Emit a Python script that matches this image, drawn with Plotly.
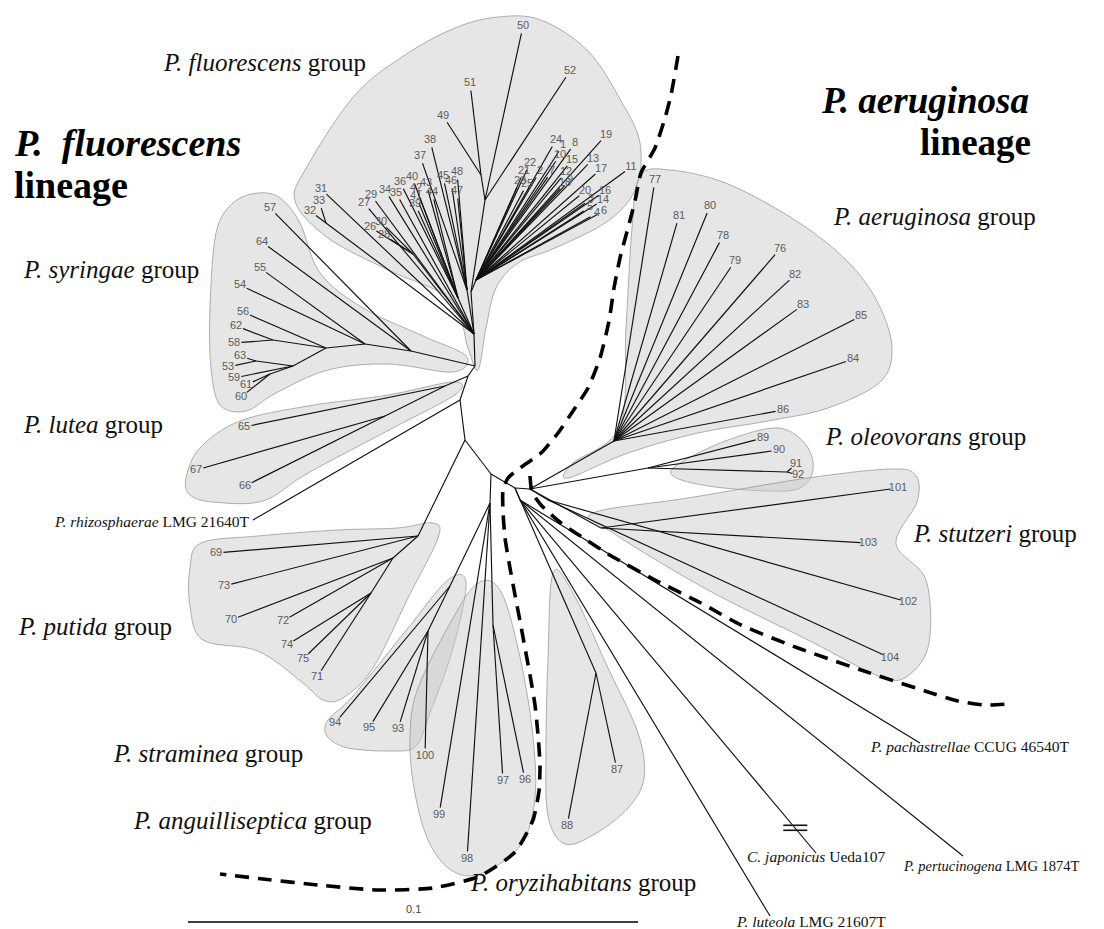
import plotly.graph_objects as go
import numpy as np

W, H = 1104, 929

# ---------------- internal nodes of the tree ----------------
node_names = ['O0', 'Ac', 'AE0', 'B2', 'B1', 'Bx', 'R0', 'FL', 'FR', 'F2', 'F1', 'R1',
              'L1', 'L2', 'L3', 'L4', 'S1', 'S2', 'S4', 'S5', 'S6', 'S7', 'S8',
              'LU2', 'LU1', 'P1', 'P2', 'P3', 'A0', 'ST0', 'ST1', 'A1', 'OR1',
              'AE1', 'OL1', 'OL2', 'SZ1', 'SZ2', 'O1']
node_x = [507, 483, 522, 457, 452, 460, 467, 466, 463, 477, 473, 468,
          405, 318, 450, 459, 403, 357, 318, 265, 285, 248, 262,
          437, 377, 410, 385, 363, 482, 442, 420, 485, 588,
          606, 640, 779, 593, 540, 512]
node_y = [480, 466, 481, 432, 392, 368, 358, 326, 284, 192, 167, 272,
          246, 215, 290, 282, 343, 336, 340, 332, 358, 353, 366,
          378, 408, 528, 550, 585, 495, 578, 623, 617, 665,
          433, 460, 464, 520, 492, 492]
node_parent = [None, 'O0', 'O0', 'Ac', 'B2', 'B1', 'Bx', 'R0', 'FL', 'FR', 'F2', 'FR',
               'FL', 'FL', 'FL', 'FL', 'R0', 'S1', 'S2', 'S4', 'S4', 'S6', 'S6',
               'Bx', 'LU2', 'B2', 'P1', 'P2', 'Ac', 'A0', 'ST0', 'A0', 'O0',
               'AE0', 'AE0', 'OL1', 'AE0', 'AE0', 'O0']

# ---------------- numbered strains (label position, parent node) ----------------
leaf_labels = ['49', '51', '50', '52',
               '31', '32', '33', '27', '29', '26', '30', '28', '34', '35',
               '36', '40', '42', '41', '39', '43', '44', '37', '38', '45', '46', '48', '47',
               '24', '1', '8', '19', '10', '15', '13', '17', '11', '22', '21', '2', '7', '12',
               '9', '23', '25', '18', '20', '16', '3', '14', '5', '4', '6',
               '57', '64', '55', '54', '56', '62', '58', '63', '53', '59', '61', '60',
               '65', '67', '66',
               '69', '73', '70', '72', '74', '75', '71',
               '94', '95', '93', '100', '99', '98', '97', '96',
               '88', '87',
               '77', '81', '80', '78', '79', '76', '82', '83', '85', '84', '86',
               '89', '90', '91', '92',
               '101', '103', '102', '104']
leaf_x = [435, 462, 515, 562,
          313, 302, 311, 356, 363, 362, 373, 376, 377, 388,
          392, 404, 408, 408, 407, 418, 424, 412, 422, 435, 443, 449, 449,
          548, 555, 567, 598, 552, 564, 585, 593, 623, 522, 516, 532, 544, 558,
          562, 512, 519, 557, 577, 597, 583, 595, 582, 589, 596,
          262, 254, 252, 232, 235, 228, 226, 232, 220, 226, 238, 233,
          236, 188, 237,
          208, 216, 223, 275, 279, 295, 309,
          327, 361, 390, 417, 431, 459, 495, 517,
          559, 609,
          647, 671, 702, 715, 727, 772, 787, 795, 853, 845, 775,
          755, 771, 788, 790,
          890, 860, 900, 882]
leaf_y = [108, 75, 18, 63,
          181, 203, 193, 195, 187, 219, 214, 227, 182, 185,
          174, 169, 180, 188, 196, 175, 184, 148, 132, 168, 173, 164, 183,
          132, 137, 135, 127, 147, 152, 151, 161, 159, 155, 163, 163, 163, 164,
          172, 173, 176, 175, 183, 183, 191, 192, 199, 205, 203,
          200, 234, 260, 277, 304, 318, 335, 348, 359, 370, 377, 389,
          419, 462, 478,
          545, 578, 612, 613, 637, 651, 669,
          715, 720, 721, 748, 807, 851, 773, 772,
          818, 762,
          172, 208, 198, 228, 253, 241, 267, 297, 308, 351, 402,
          430, 442, 456, 467,
          480, 535, 594, 650]
leaf_parent = ['F1', 'F1', 'F2', 'F2',
               'FL', 'L2', 'L2', 'FL', 'FL', 'L1', 'L1', 'L1', 'FL', 'FL',
               'L3', 'L3', 'L3', 'L3', 'L3', 'L3', 'L3', 'L4', 'L4', 'L4', 'L4', 'L4', 'L4'] + \
              ['R1'] * 25 + \
              ['S1', 'S1', 'S2', 'S2', 'S4', 'S5', 'S5', 'S7', 'S7', 'S6', 'S8', 'S8',
               'LU2', 'LU1', 'LU1',
               'P1', 'P1', 'P2', 'P2', 'P3', 'P3', 'P3',
               'ST0', 'ST1', 'ST1', 'ST1', 'A0', 'A0', 'A1', 'A1',
               'OR1', 'OR1'] + \
              ['AE1'] * 11 + \
              ['OL1', 'OL1', 'OL2', 'OL2',
               'SZ1', 'SZ1', 'SZ2', 'SZ2']

# ---------------- named reference strains ----------------
ref_species = ['P. rhizosphaerae', 'P. pachastrellae', 'C. japonicus', 'P. pertucinogena', 'P. luteola']
ref_strain = ['LMG 21640T', 'CCUG 46540T', 'Ueda107', 'LMG 1874T', 'LMG 21607T']
ref_tip_x = [245, 912, 808, 955, 762]
ref_tip_y = [512, 735, 845, 848, 908]
ref_parent = ['B1', 'O1', 'O1', 'O1', 'O1']

# ---------------- group hulls ----------------
hull_fluorescens = [(287, 193), (300, 157), (347, 87), (397, 47), (447, 20), (490, 9), (533, 12), (580, 43),
                    (613, 93), (632, 135), (628, 180), (600, 213), (547, 240), (510, 255), (488, 280),
                    (478, 320), (470, 362), (460, 340), (443, 292), (380, 262), (320, 230)]
hull_syringae = [(250, 185), (272, 190), (292, 215), (312, 265), (355, 300), (415, 328), (458, 348),
                 (445, 364), (380, 356), (320, 362), (268, 385), (238, 403), (212, 397), (203, 360),
                 (202, 300), (208, 225), (225, 195)]
hull_lutea = [(178, 470), (192, 440), (232, 413), (300, 398), (380, 387), (445, 374), (448, 386),
              (385, 420), (300, 465), (255, 493), (205, 494), (182, 487)]
hull_putida = [(182, 560), (193, 535), (250, 528), (330, 522), (390, 520), (425, 515), (430, 530),
               (400, 590), (365, 660), (335, 690), (315, 692), (295, 675), (250, 643), (195, 632), (182, 598)]
hull_straminea = [(320, 712), (345, 688), (400, 620), (440, 572), (458, 575), (445, 640), (422, 705),
                  (408, 738), (385, 743), (340, 740), (319, 728)]
hull_anguilliseptica = [(402, 728), (410, 680), (445, 610), (470, 575), (492, 582), (510, 640), (524, 720),
                        (527, 790), (512, 838), (472, 866), (443, 862), (420, 832), (406, 780)]
hull_oryzihabitans = [(545, 565), (565, 585), (600, 660), (630, 725), (636, 770), (620, 800), (587, 826),
                      (557, 836), (540, 808), (538, 740), (540, 650)]
hull_aeruginosa = [(632, 168), (662, 162), (720, 176), (790, 214), (840, 254), (870, 295), (884, 340),
                   (872, 374), (820, 400), (760, 413), (690, 425), (620, 445), (560, 470), (565, 455),
                   (612, 418), (618, 320), (624, 220)]
hull_oleovorans = [(672, 455), (720, 432), (770, 420), (798, 437), (805, 462), (792, 480), (760, 483),
                   (700, 478), (665, 468)]
hull_stutzeri = [(585, 505), (680, 490), (800, 470), (884, 461), (908, 468), (909, 494), (888, 536),
                 (918, 572), (921, 635), (901, 667), (873, 669), (800, 632), (700, 582), (605, 525)]
hulls = [hull_fluorescens, hull_syringae, hull_lutea, hull_putida, hull_straminea,
         hull_anguilliseptica, hull_oryzihabitans, hull_aeruginosa, hull_oleovorans, hull_stutzeri]

# ---------------- lineage separators (dashed) ----------------
sep1_x = [670, 663, 657, 647, 633, 627, 620, 612, 606, 601, 592, 580, 565, 550, 533, 512, 500, 495,
          495, 497, 502, 507, 512, 517, 522, 527, 530, 532, 531, 525, 507, 472, 425, 370, 310, 255, 212]
sep1_y = [48, 87, 110, 140, 165, 193, 220, 250, 280, 313, 350, 380, 403, 425, 445, 460, 470, 482,
          503, 530, 560, 587, 613, 640, 667, 697, 727, 757, 783, 812, 844, 868, 880, 882, 877, 871, 866]
sep2_x = [522, 524, 533, 553, 577, 600, 647, 693, 733, 790, 853, 917, 950, 977, 1000]
sep2_y = [468, 484, 497, 515, 531, 546, 572, 595, 617, 640, 662, 683, 693, 697, 696]

# ---------------- text ----------------
group_names = ['P. fluorescens', 'P. syringae', 'P. lutea', 'P. putida', 'P. straminea',
               'P. anguilliseptica', 'P. oryzihabitans', 'P. aeruginosa', 'P. oleovorans', 'P. stutzeri']
group_lx = [153, 13, 13, 8, 103, 123, 460, 823, 815, 903]
group_ly = [54, 261, 416, 618, 745, 812, 874, 208, 428, 525]
scale_value = '0.1'
scale_len = 450

pos = {n: (x, y) for n, x, y in zip(node_names, node_x, node_y)}
par = dict(zip(node_names, node_parent))

# ---- branch segments ----
ex, ey = [], []
for n in node_names:
    p = par[n]
    if p is None:
        continue
    ex += [pos[n][0], pos[p][0], None]
    ey += [pos[n][1], pos[p][1], None]
for lx, ly, p in zip(leaf_x, leaf_y, leaf_parent):
    px, py = pos[p]
    dx, dy = lx - px, ly - py
    d = np.hypot(dx, dy)
    off = min(7.5, d * 0.5)
    tx, ty = lx - dx / d * off, ly - dy / d * off
    ex += [px, tx, None]
    ey += [py, ty, None]
for tx, ty, p in zip(ref_tip_x, ref_tip_y, ref_parent):
    px, py = pos[p]
    ex += [px, tx, None]
    ey += [py, ty, None]

# break mark on C. japonicus branch
jx, jy = ref_tip_x[2], ref_tip_y[2]
bpx, bpy = pos[ref_parent[2]]
bx = bpx + (jx - bpx) * 0.93
by = bpy + (jy - bpy) * 0.93
brk_x = [bx - 12, bx + 12, None, bx - 12, bx + 12]
brk_y = [by - 3, by - 3, None, by + 2, by + 2]


def smooth_path(pts):
    P = np.array(pts, dtype=float)
    n = len(P)
    s = f"M {P[0][0]:.1f},{P[0][1]:.1f} "
    for i in range(n):
        p0, p1, p2, p3 = P[(i - 1) % n], P[i], P[(i + 1) % n], P[(i + 2) % n]
        c1 = p1 + (p2 - p0) / 6
        c2 = p2 - (p3 - p1) / 6
        s += f"C {c1[0]:.1f},{c1[1]:.1f} {c2[0]:.1f},{c2[1]:.1f} {p2[0]:.1f},{p2[1]:.1f} "
    return s + "Z"


fig = go.Figure()

shapes = []
for h in hulls:
    shapes.append(dict(type='path', path=smooth_path(h), xref='x', yref='y', layer='below',
                       fillcolor='rgba(200,200,200,0.45)',
                       line=dict(color='rgba(150,150,150,0.75)', width=1)))

fig.add_trace(go.Scatter(x=ex, y=ey, mode='lines', line=dict(color='#111111', width=1.15),
                         hoverinfo='skip', showlegend=False))
fig.add_trace(go.Scatter(x=brk_x, y=brk_y, mode='lines', line=dict(color='#111111', width=1.6),
                         hoverinfo='skip', showlegend=False))
fig.add_trace(go.Scatter(x=leaf_x, y=leaf_y, mode='text', text=leaf_labels,
                         textfont=dict(family='Liberation Sans, Arial', size=11, color='#5c5c5c'),
                         hoverinfo='skip', showlegend=False))
for sx, sy in [(sep1_x, sep1_y), (sep2_x, sep2_y)]:
    fig.add_trace(go.Scatter(x=sx, y=sy, mode='lines',
                             line=dict(color='black', width=3.6, dash='14px,9px', shape='spline', smoothing=0.6),
                             hoverinfo='skip', showlegend=False))

# scale bar
fig.add_trace(go.Scatter(x=[180, 180 + scale_len], y=[914, 914], mode='lines',
                         line=dict(color='black', width=1.3), hoverinfo='skip', showlegend=False))

ann = []
serif = 'Liberation Serif, Times New Roman, serif'
for name, gx, gy in zip(group_names, group_lx, group_ly):
    ann.append(dict(x=gx, y=gy, xref='x', yref='y', xanchor='left', yanchor='middle', showarrow=False,
                    text=f'<i>{name}</i> group', font=dict(family=serif, size=25, color='#111111')))
# lineages
ann.append(dict(x=4, y=135, xref='x', yref='y', xanchor='left', yanchor='middle', showarrow=False,
                text='<b><i>P.  fluorescens</i></b>', font=dict(family=serif, size=38, color='black')))
ann.append(dict(x=4, y=177, xref='x', yref='y', xanchor='left', yanchor='middle', showarrow=False,
                text='<b>lineage</b>', font=dict(family=serif, size=38, color='black')))
ann.append(dict(x=1023, y=92, xref='x', yref='y', xanchor='right', yanchor='middle', showarrow=False,
                text='<b><i>P. aeruginosa</i></b>', font=dict(family=serif, size=37, color='black')))
ann.append(dict(x=1025, y=134, xref='x', yref='y', xanchor='right', yanchor='middle', showarrow=False,
                text='<b>lineage</b>', font=dict(family=serif, size=37, color='black')))
# named reference strains
ref_lab_x = [244, 860, 737, 893, 726]
ref_lab_y = [513, 738, 848, 858, 913]
ref_anchor = ['right', 'left', 'left', 'left', 'left']
ref_size = [15.5, 15.5, 15.5, 14.5, 15.5]
for sp, st, lx, ly, a, fs in zip(ref_species, ref_strain, ref_lab_x, ref_lab_y, ref_anchor, ref_size):
    ann.append(dict(x=lx, y=ly, xref='x', yref='y', xanchor=a, yanchor='middle', showarrow=False,
                    text=f'<i>{sp}</i> {st}', font=dict(family=serif, size=fs, color='#111111')))
ann.append(dict(x=180 + scale_len / 2, y=901, xref='x', yref='y', xanchor='center', yanchor='middle',
                showarrow=False, text=scale_value,
                font=dict(family='Liberation Sans, Arial', size=11, color='#444444')))

fig.update_layout(width=W, height=H, margin=dict(l=0, r=0, t=0, b=0),
                  paper_bgcolor='white', plot_bgcolor='white',
                  xaxis=dict(range=[0, W], visible=False, fixedrange=True),
                  yaxis=dict(range=[H, 0], visible=False, fixedrange=True),
                  shapes=shapes, annotations=ann, showlegend=False)
fig.write_html("out.html")
